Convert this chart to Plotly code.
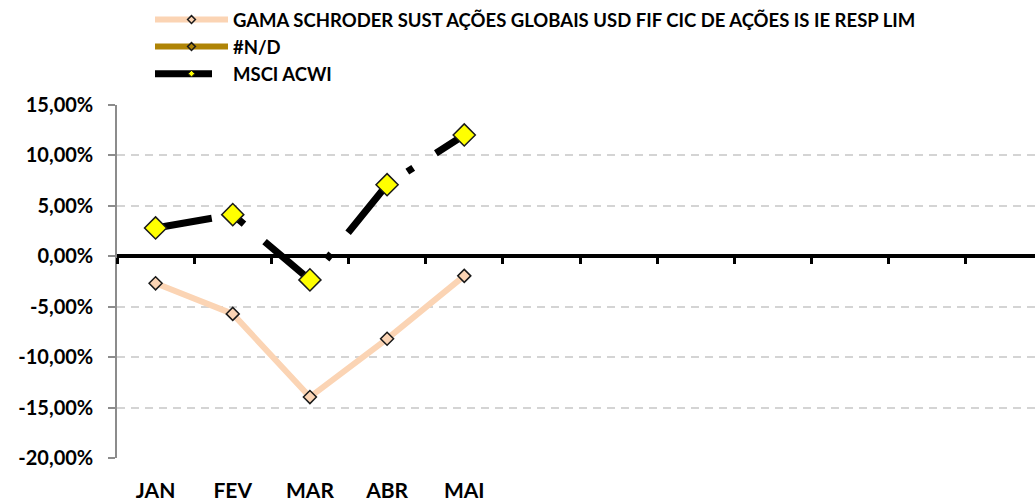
import plotly.graph_objects as go

# Monthly returns (%)
months = ["JAN", "FEV", "MAR", "ABR", "MAI", "JUN", "JUL", "AGO", "SET", "OUT", "NOV", "DEZ"]
month_labels = ["JAN", "FEV", "MAR", "ABR", "MAI", "", "", "", "", "", "", ""]
gama = [-2.68, -5.71, -13.96, -8.18, -1.94]
msci = [2.81, 4.13, -2.34, 7.10, 12.03]

name_gama = "GAMA SCHRODER SUST AÇÕES GLOBAIS USD FIF CIC DE AÇÕES IS IE RESP LIM"
name_nd = "#N/D"
name_msci = "MSCI ACWI"

y_ticks = [-20, -15, -10, -5, 0, 5, 10, 15]
y_tick_text = [f"{v:.2f}%".replace(".", ",") for v in y_ticks]

PEACH = "#FBD4B4"
GOLD = "#AF8406"
FONT = "Lato"
MSCI_DASH = "57px,29px,7px,27px"

xi = list(range(len(gama)))
n_cat = len(months)

fig = go.Figure()

# Series drawn in the plot area
fig.add_trace(go.Scatter(
    x=xi, y=gama, mode="lines+markers", showlegend=False,
    line=dict(color=PEACH, width=6),
    marker=dict(symbol="diamond", size=10, color=PEACH,
                line=dict(color="#1a1a1a", width=1.5)),
))
fig.add_trace(go.Scatter(
    x=xi, y=msci, mode="lines+markers", showlegend=False, xaxis="x2",
    line=dict(color="black", width=7, dash=MSCI_DASH),
    marker=dict(symbol="diamond", size=17, color="#FFFF00",
                line=dict(color="#1a1a1a", width=1.5)),
))

# Legend entries
fig.add_trace(go.Scatter(
    x=[None], y=[None], mode="lines+markers", name=name_gama,
    line=dict(color=PEACH, width=6),
    marker=dict(symbol="diamond", size=6, color=PEACH,
                line=dict(color="#1a1a1a", width=1.5)),
))
fig.add_trace(go.Scatter(
    x=[None], y=[None], mode="lines+markers", name=name_nd,
    line=dict(color=GOLD, width=6),
    marker=dict(symbol="diamond", size=6, color=GOLD,
                line=dict(color="#1a1a1a", width=1.5)),
))
fig.add_trace(go.Scatter(
    x=[None], y=[None], mode="lines+markers", name=name_msci,
    line=dict(color="black", width=7, dash=MSCI_DASH),
    marker=dict(symbol="diamond", size=5, color="#FFFF00",
                line=dict(color="#1a1a1a", width=1)),
))

x_range = [-0.5, n_cat - 0.5 - 8 / 77.2]
y_range = [min(y_ticks), max(y_ticks)]
zero_pos = (0 - y_range[0]) / (y_range[1] - y_range[0])

fig.update_layout(
    width=1035, height=503,
    margin=dict(l=117, r=0, t=105, b=45, autoexpand=False),
    paper_bgcolor="white", plot_bgcolor="white",
    font=dict(family=FONT, color="black", weight="bold"),
    xaxis=dict(
        range=x_range, showgrid=False, zeroline=False, showline=False,
        tickmode="array", tickvals=list(range(n_cat)), ticktext=month_labels,
        ticks="", tickfont=dict(family=FONT, size=21, weight="bold", color="black"),
        ticklabelstandoff=18,
    ),
    xaxis2=dict(
        overlaying="x", anchor="free", position=zero_pos,
        range=x_range, showgrid=False, zeroline=False,
        showline=True, linecolor="black", linewidth=4,
        tickmode="array", tickvals=[i - 0.5 for i in range(n_cat + 1)],
        ticks="outside", ticklen=6, tickwidth=3, tickcolor="black",
        showticklabels=False,
    ),
    yaxis=dict(
        range=y_range, tickmode="array", tickvals=y_ticks, ticktext=y_tick_text,
        showgrid=True, gridcolor="#d4d4d4", gridwidth=1.5, griddash="8px,6px",
        zeroline=False, showline=True, linecolor="#8c8c8c", linewidth=1.5,
        ticks="outside", ticklen=7, tickwidth=1.5, tickcolor="#8c8c8c",
        tickfont=dict(family=FONT, size=20, weight="bold", color="black"),
        ticklabelstandoff=11,
    ),
    legend=dict(
        x=(150 - 117) / 918, y=(458 - 1) / 353,
        xanchor="left", yanchor="top", orientation="v",
        itemwidth=73, bgcolor="rgba(0,0,0,0)",
        font=dict(family=FONT, size=18.5, weight="bold", color="black"),
        tracegroupgap=0,
    ),
)

fig.write_html("out.html")
